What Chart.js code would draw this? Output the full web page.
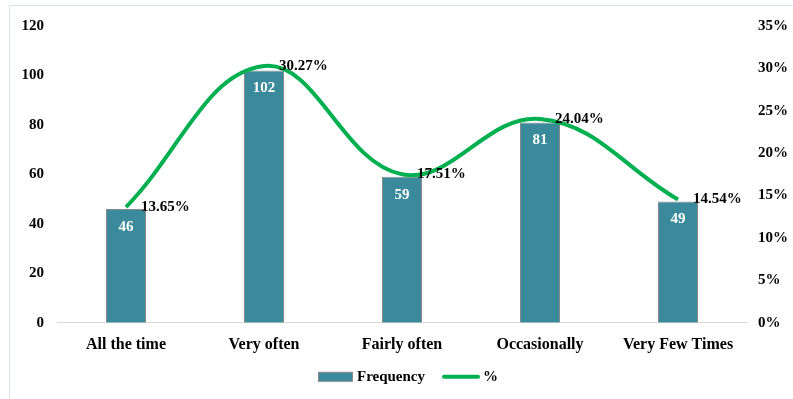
<!DOCTYPE html>
<html>
<head>
<meta charset="utf-8">
<script src="https://cdn.jsdelivr.net/npm/chart.js@4/dist/chart.umd.min.js"></script>
<style>
  html, body { margin: 0; padding: 0; background: #ffffff; overflow: hidden; }
  #wrap { position: relative; width: 793px; height: 399px; }
  #frame { position: absolute; left: 9px; top: 5px; width: 800px; height: 400px; border: 1px solid #dde3ea; box-sizing: border-box; }
  #c { position: absolute; left: 0; top: 0; }
</style>
</head>
<body>
<div id="wrap">
  <div id="frame"></div>
  <canvas id="c" width="793" height="399"></canvas>
</div>
<script>
const categories = ["All the time", "Very often", "Fairly often", "Occasionally", "Very Few Times"];
const frequency = [46, 102, 59, 81, 49];
const percent = [13.65, 30.27, 17.51, 24.04, 14.54];
const percentLabels = ["13.65%", "30.27%", "17.51%", "24.04%", "14.54%"];
const leftTicks = [0, 20, 40, 60, 80, 100, 120];
const rightTicks = [0, 5, 10, 15, 20, 25, 30, 35];

const FONT = "'Liberation Serif', 'Times New Roman', serif";
const BAR_COLOR = '#3a8a9b';
const BAR_BORDER = '#8a8a8a';
const LINE_COLOR = '#00b050';

const labelPlugin = {
  id: 'valueLabels',
  afterDatasetsDraw(chart) {
    const ctx = chart.ctx;
    ctx.save();
    ctx.font = "bold 15px " + FONT;
    const barMeta = chart.getDatasetMeta(1);
    ctx.fillStyle = '#ffffff';
    ctx.textAlign = 'center';
    ctx.textBaseline = 'middle';
    barMeta.data.forEach((el, i) => {
      ctx.fillText(String(frequency[i]), el.x, el.y + 18);
    });
    const lineMeta = chart.getDatasetMeta(0);
    ctx.fillStyle = '#000000';
    ctx.textAlign = 'left';
    lineMeta.data.forEach((el, i) => {
      ctx.fillText(percentLabels[i], el.x + 15, el.y);
    });
    ctx.restore();
  }
};

const legendPlugin = {
  id: 'bottomLegend',
  afterDraw(chart) {
    const ctx = chart.ctx;
    const area = chart.chartArea;
    const barLabel = chart.data.datasets[1].label;
    const lineLabel = chart.data.datasets[0].label;
    ctx.save();
    ctx.font = "bold 15px " + FONT;
    ctx.textBaseline = 'middle';
    ctx.textAlign = 'left';
    const w1 = ctx.measureText(barLabel).width;
    const w2 = ctx.measureText(lineLabel).width;
    const total = 35 + 4 + w1 + 17 + 38 + 3 + w2;
    const cx = (area.left + area.right) / 2 + 6;
    const y = area.bottom + 54;
    let x = cx - total / 2;
    ctx.fillStyle = BAR_COLOR;
    ctx.fillRect(x, y - 4.5, 35, 9);
    ctx.strokeStyle = BAR_BORDER;
    ctx.lineWidth = 1;
    ctx.strokeRect(x + 0.5, y - 4.5, 34, 9);
    x += 39;
    ctx.fillStyle = '#000000';
    ctx.fillText(barLabel, x, y);
    x += w1 + 17;
    ctx.strokeStyle = LINE_COLOR;
    ctx.lineWidth = 4;
    ctx.lineCap = 'round';
    ctx.beginPath();
    ctx.moveTo(x + 2, y);
    ctx.lineTo(x + 36, y);
    ctx.stroke();
    x += 41;
    ctx.fillText(lineLabel, x, y);
    ctx.restore();
  }
};

new Chart(document.getElementById('c'), {
  type: 'bar',
  data: {
    labels: categories,
    datasets: [
      {
        type: 'line',
        label: '%',
        data: percent,
        yAxisID: 'y1',
        borderColor: LINE_COLOR,
        backgroundColor: LINE_COLOR,
        borderWidth: 4,
        pointRadius: 0,
        pointHoverRadius: 0,
        tension: 0.4,
        fill: false,
        order: 0
      },
      {
        type: 'bar',
        label: 'Frequency',
        data: frequency,
        yAxisID: 'y',
        backgroundColor: BAR_COLOR,
        borderColor: BAR_BORDER,
        borderWidth: 1,
        categoryPercentage: 1,
        barPercentage: 0.29,
        order: 1
      }
    ]
  },
  options: {
    responsive: false,
    animation: false,
    devicePixelRatio: 1,
    layout: { padding: { top: 26, bottom: 33, left: 0, right: 0 } },
    plugins: {
      legend: { display: false },
      tooltip: { enabled: false }
    },
    scales: {
      x: {
        grid: { display: false, drawTicks: false },
        border: { display: true, color: '#d9d9d9', width: 1 },
        ticks: { color: '#000000', padding: 12, font: { family: FONT, size: 16, weight: 'bold' }, maxRotation: 0 }
      },
      y: {
        position: 'left',
        min: 0, max: 120,
        afterBuildTicks(scale) { scale.ticks = leftTicks.map(v => ({ value: v })); },
        afterFit(scale) { scale.width = 57; },
        grid: { display: false, drawTicks: false },
        border: { display: false },
        ticks: { color: '#000000', padding: 13, font: { family: FONT, size: 15, weight: 'bold' } }
      },
      y1: {
        position: 'right',
        min: 0, max: 35,
        afterBuildTicks(scale) { scale.ticks = rightTicks.map(v => ({ value: v })); },
        afterFit(scale) { scale.width = 46; },
        grid: { display: false, drawTicks: false },
        border: { display: false },
        ticks: { color: '#000000', padding: 11, font: { family: FONT, size: 15, weight: 'bold' }, callback: v => v + '%' }
      }
    }
  },
  plugins: [labelPlugin, legendPlugin]
});
</script>
</body>
</html>
